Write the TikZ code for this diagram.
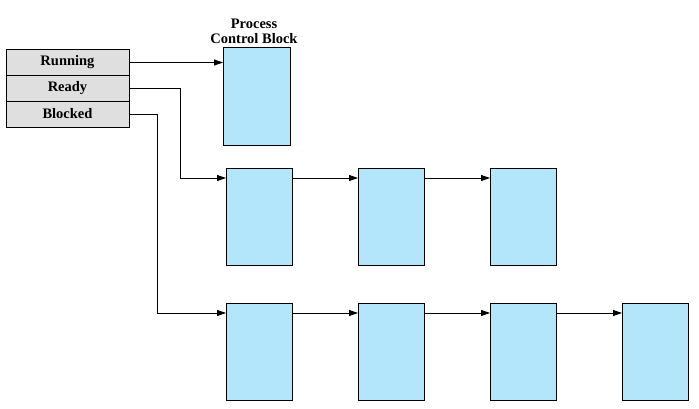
\documentclass[tikz,border=0pt]{standalone}
\usepackage{fontspec}
\setmainfont{Liberation Serif}
\usetikzlibrary{arrows.meta}
\begin{document}
\begin{tikzpicture}[x=1pt,y=-1pt,
  cell/.style={draw,semithick,fill=gray!25,minimum width=123pt,minimum height=26pt,inner sep=0,font=\bfseries\fontsize{14.5}{16}\selectfont},
  pcb/.style={draw,semithick,fill=cyan!30,minimum width=66pt,minimum height=97pt,inner sep=0,anchor=north west},
  arr/.style={-{Triangle[length=9pt,width=6pt]},thick}]
\useasboundingbox (0,0) rectangle (699,409);
\node[cell] (run) at (67.5,62.5) {Running};
\node[cell] (rdy) at (67.5,88) {Ready};
\node[cell] (blk) at (67.5,114) {Blocked};
\node[pcb,minimum width=67pt,minimum height=98pt] (p0) at (223,47) {};
\node[font=\bfseries\fontsize{14.5}{15}\selectfont,align=center,inner sep=0] (lbl) at (254,31) {Process\\Control Block};
\foreach \i/\x in {1/226,2/358,3/490} \node[pcb] (a\i) at (\x,168) {};
\foreach \i/\x in {1/226,2/358,3/490,4/622} \node[pcb] (b\i) at (\x,303) {};
\draw[arr] (run.east) -- (p0.west |- run.east);
\coordinate (c1) at (180,88);
\draw[arr] (rdy.east) -- (c1) |- ([yshift=-10pt]a1.north west);
\coordinate (c2) at (157,114);
\draw[arr] (blk.east) -- (c2) |- ([yshift=-10pt]b1.north west);
\foreach \i/\j in {1/2,2/3} \draw[arr] ([yshift=-10pt]a\i.north east) -- ([yshift=-10pt]a\j.north west);
\foreach \i/\j in {1/2,2/3,3/4} \draw[arr] ([yshift=-10pt]b\i.north east) -- ([yshift=-10pt]b\j.north west);
\end{tikzpicture}
\end{document}
